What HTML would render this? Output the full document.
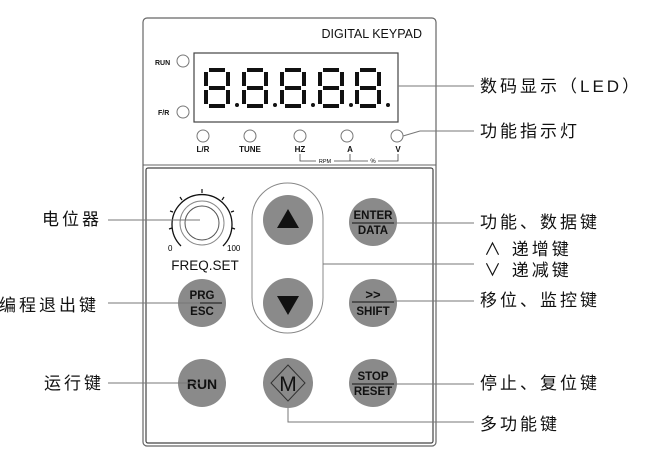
<!DOCTYPE html>
<html><head><meta charset="utf-8"><style>
body{margin:0;background:#fff}
svg{display:block}
.cj{font-family:"Liberation Sans","Noto Sans CJK SC",sans-serif;font-size:17px;letter-spacing:3px;fill:#111}
.lb{font-family:"Liberation Sans",sans-serif;font-weight:bold;fill:#111}
</style></head><body>
<svg width="652" height="467" viewBox="0 0 652 467" xmlns="http://www.w3.org/2000/svg">
<defs>
<g id="dg" stroke="#111" stroke-width="4" fill="none">
<line x1="4" y1="1" x2="20" y2="1"/>
<line x1="4" y1="19" x2="20" y2="19"/>
<line x1="4" y1="37" x2="20" y2="37"/>
<line x1="1" y1="3" x2="1" y2="17"/>
<line x1="1" y1="21" x2="1" y2="35"/>
<line x1="23" y1="3" x2="23" y2="17"/>
<line x1="23" y1="21" x2="23" y2="35"/>
</g>
</defs>
<rect x="143" y="18" width="293" height="428" rx="4" fill="#fff" stroke="#666" stroke-width="1.2"/>
<line x1="143" y1="165" x2="436" y2="165" stroke="#666"/>
<rect x="146" y="168" width="287" height="275" rx="2" fill="#fff" stroke="#444" stroke-width="1.2"/>
<text x="422" y="38" font-family="Liberation Sans" font-size="12.5" text-anchor="end" fill="#111">DIGITAL KEYPAD</text>
<rect x="194" y="53" width="204" height="69" fill="#fff" stroke="#444" stroke-width="1.2"/>
<use href="#dg" x="205" y="69"/><circle cx="237" cy="105" r="2" fill="#111"/>
<use href="#dg" x="243" y="69"/><circle cx="275" cy="105" r="2" fill="#111"/>
<use href="#dg" x="281" y="69"/><circle cx="313" cy="105" r="2" fill="#111"/>
<use href="#dg" x="319" y="69"/><circle cx="351" cy="105" r="2" fill="#111"/>
<use href="#dg" x="356" y="69"/><circle cx="388" cy="105" r="2" fill="#111"/>
<text x="155" y="65" class="lb" font-size="7">RUN</text>
<circle cx="183" cy="61" r="6" fill="#fff" stroke="#777"/>
<text x="158" y="115" class="lb" font-size="7">F/R</text>
<circle cx="183" cy="112" r="6" fill="#fff" stroke="#777"/>
<g fill="#fff" stroke="#777">
<circle cx="203" cy="136" r="6"/><circle cx="250" cy="136" r="6"/><circle cx="300" cy="136" r="6"/><circle cx="347" cy="136" r="6"/><circle cx="397" cy="136" r="6"/></g>
<g class="lb" font-size="8" text-anchor="middle">
<text x="203" y="152">L/R</text><text x="250" y="152">TUNE</text><text x="300" y="152">HZ</text><text x="350" y="152">A</text><text x="398" y="152">V</text></g>
<polyline points="300,154 300,161 398,161 398,154" fill="none" stroke="#444" stroke-width="0.8"/>
<line x1="350" y1="154" x2="350" y2="161" stroke="#444" stroke-width="0.8"/>
<rect x="316" y="158" width="18" height="5" fill="#fff"/><text x="325" y="163" font-family="Liberation Sans" font-size="5.5" text-anchor="middle">RPM</text>
<rect x="368" y="158" width="10" height="5" fill="#fff"/><text x="373" y="163" font-family="Liberation Sans" font-size="6" text-anchor="middle">%</text>
<path d="M181,246 A30,30 0 1,1 223,246" fill="none" stroke="#111" stroke-width="1.3"/>
<g stroke="#111" stroke-width="1.2">
<line x1="172" y1="228" x2="169" y2="229"/><line x1="173" y1="212" x2="170" y2="211"/>
<line x1="182" y1="200" x2="180" y2="197"/><line x1="202" y1="193" x2="202" y2="189"/>
<line x1="222" y1="200" x2="224" y2="197"/><line x1="231" y1="212" x2="234" y2="211"/>
<line x1="232" y1="228" x2="235" y2="229"/></g>
<circle cx="202" cy="223" r="22" fill="#fff" stroke="#888"/>
<circle cx="202" cy="223" r="17" fill="#fff" stroke="#555"/>
<text x="168" y="251" font-family="Liberation Sans" font-size="8">0</text>
<text x="227" y="251" font-family="Liberation Sans" font-size="8">100</text>
<text x="205" y="270" font-family="Liberation Sans" font-size="13.5" text-anchor="middle" fill="#111">FREQ.SET</text>
<rect x="252" y="183" width="71" height="150" rx="35.5" fill="#fff" stroke="#888"/>
<g fill="#8a8a8a">
<circle cx="288" cy="220" r="25"/><circle cx="288" cy="303" r="25"/>
<circle cx="373" cy="222" r="24"/><circle cx="373" cy="303" r="24"/>
<circle cx="202" cy="303" r="24"/><circle cx="202" cy="383" r="24"/>
<circle cx="288" cy="383" r="25"/><circle cx="373" cy="383" r="24"/></g>
<polygon points="288,209 277,228 299,228" fill="#111"/>
<polygon points="288,315 277,296 299,296" fill="#111"/>
<polygon points="288,365 305,383 288,401 271,383" fill="none" stroke="#333"/>
<text x="288" y="391" font-family="Liberation Sans" font-size="21" text-anchor="middle" fill="#111">M</text>
<g class="lb" text-anchor="middle" font-size="11.5">
<text x="373" y="219">ENTER</text><text x="373" y="234">DATA</text>
<text x="373" y="299" font-size="13">&gt;&gt;</text><text x="373" y="315">SHIFT</text>
<text x="202" y="299">PRG</text><text x="202" y="315">ESC</text>
<text x="373" y="380">STOP</text><text x="373" y="395">RESET</text>
<text x="202" y="389" font-size="14">RUN</text></g>
<g stroke="#111" stroke-width="0.9"><line x1="352" y1="223" x2="394" y2="223"/><line x1="352" y1="302" x2="394" y2="302"/><line x1="182" y1="303" x2="222" y2="303"/><line x1="352" y1="384" x2="394" y2="384"/></g>
<g stroke="#777" stroke-width="1" fill="none">
<line x1="398" y1="86" x2="474" y2="86"/>
<line x1="403" y1="136" x2="420" y2="131"/><line x1="420" y1="131" x2="474" y2="131"/>
<line x1="394" y1="223" x2="474" y2="223"/>
<line x1="323" y1="264" x2="474" y2="264"/>
<line x1="394" y1="301" x2="474" y2="301"/>
<line x1="394" y1="384" x2="474" y2="384"/>
<polyline points="288,408 288,422 474,422"/>
<line x1="108" y1="220" x2="200" y2="220"/>
<line x1="108" y1="303" x2="200" y2="303"/>
<line x1="108" y1="383" x2="200" y2="383"/>
</g>
<g class="cj">
<text x="480" y="92">数码显示（LED）</text>
<text x="480" y="137">功能指示灯</text>
<text x="480" y="228">功能、数据键</text>
<text x="484" y="255">∧ 递增键</text>
<text x="484" y="276">∨ 递减键</text>
<text x="480" y="306">移位、监控键</text>
<text x="480" y="389">停止、复位键</text>
<text x="480" y="430">多功能键</text>
<text x="42" y="225">电位器</text>
<text x="-1" y="311">编程退出键</text>
<text x="44" y="389">运行键</text>
</g>
</svg>
</body></html>
